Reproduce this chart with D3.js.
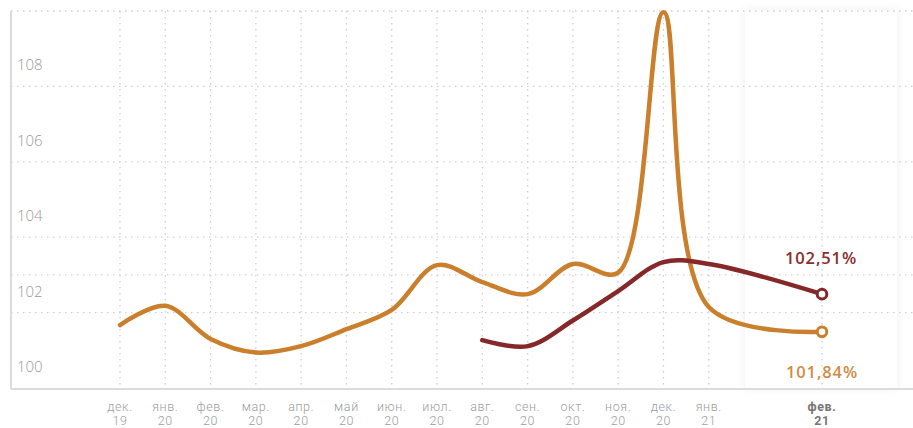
<!DOCTYPE html>
<html>
<head>
<meta charset="utf-8">
<script src="https://cdn.jsdelivr.net/npm/d3@7"></script>
<style>
  html, body { margin: 0; padding: 0; background: #fff; }
  svg { display: block; }
  text { font-family: "Open Sans", Roboto, "Noto Sans", sans-serif; }
  text.xl { font-family: Roboto, "Noto Sans", sans-serif; }
</style>
</head>
<body>
<svg id="chart" width="913" height="428"></svg>
<script>
// ---- data ----
const months = ["дек.","янв.","фев.","мар.","апр.","май","июн.","июл.","авг.","сен.","окт.","ноя.","дек.","янв.","фев."];
const years  = ["19","20","20","20","20","20","20","20","20","20","20","20","20","21","21"];
const orangeSeries = [101.67,102.18,101.30,100.94,101.11,101.56,102.07,103.26,102.81,102.49,103.29,103.06,109.97,102.15,101.49];
const redSeries    = [null,null,null,null,null,null,null,null,101.27,101.11,101.79,102.57,103.34,103.29,102.49];
const yTickLabels  = [100,102,104,106,108];
const yGridValues  = [102,103,104,106,108,110];
const endLabels    = { red: "102,51%", orange: "101,84%" };

// ---- layout ----
const W = 913, H = 428;
const svg = d3.select("#chart");
const n = months.length;
const slot = i => (i < n - 1 ? i : 15.5);      // last month is set apart
const x = d3.scaleLinear().domain([0, 15.5]).range([120, 822]);
const y = d3.scaleLinear().domain([100, 110]).range([388, 11]);

const axisLeft = 11, axisBottom = y(100), plotTop = y(110);
const ORANGE = "#c97f2c", RED = "#862729";

// shadow filter
const defs = svg.append("defs");
const f = defs.append("filter").attr("id","sh").attr("x","-30%").attr("y","-10%").attr("width","160%").attr("height","120%");
f.append("feDropShadow").attr("dx",0).attr("dy",0).attr("stdDeviation",5).attr("flood-color","#000").attr("flood-opacity",0.07);

// highlight column
const cx = x(slot(n-1));
svg.append("rect")
  .attr("x", cx - 77).attr("y", plotTop - 1)
  .attr("width", 152).attr("height", axisBottom - plotTop + 1)
  .attr("fill", "#fff").attr("filter","url(#sh)");

// horizontal grid
svg.append("g").selectAll("line").data(yGridValues).join("line")
  .attr("x1", axisLeft).attr("x2", W)
  .attr("y1", d => y(d)).attr("y2", d => y(d))
  .attr("stroke", "#cfcfcf").attr("stroke-width", 1.3)
  .attr("stroke-dasharray", "1.5 4.5");

// vertical grid
svg.append("g").selectAll("line").data(months).join("line")
  .attr("x1", (d,i) => x(slot(i))).attr("x2", (d,i) => x(slot(i)))
  .attr("y1", plotTop).attr("y2", axisBottom)
  .attr("stroke", "#cfcfcf").attr("stroke-width", 1.3)
  .attr("stroke-dasharray", "1.5 4.5");

// axes lines
svg.append("line").attr("x1", axisLeft).attr("x2", axisLeft).attr("y1", plotTop).attr("y2", axisBottom + 1)
  .attr("stroke", "#dcdcdc").attr("stroke-width", 2);
svg.append("line").attr("x1", axisLeft).attr("x2", W).attr("y1", axisBottom + 1).attr("y2", axisBottom + 1)
  .attr("stroke", "#dcdcdc").attr("stroke-width", 2);

// y tick labels
svg.append("g").selectAll("text").data(yTickLabels).join("text")
  .attr("x", 17).attr("y", d => y(d) - 16)
  .attr("fill", "#9a9a9a").attr("font-size", 15).attr("font-weight", 300)
  .text(d => d);

// x labels (two rows)
const xg = svg.append("g").attr("text-anchor", "middle");
xg.selectAll("text.m").data(months).join("text").attr("class","m xl")
  .attr("x", (d,i) => x(slot(i))).attr("y", 411)
  .attr("font-size", 12.5).attr("letter-spacing", 0.6)
  .attr("fill", (d,i) => i === n-1 ? "#777" : "#9d9d9d")
  .attr("font-weight", (d,i) => i === n-1 ? 700 : 300)
  .text(d => d);
xg.selectAll("text.yr").data(years).join("text").attr("class","yr xl")
  .attr("x", (d,i) => x(slot(i))).attr("y", 425)
  .attr("font-size", 12.5).attr("letter-spacing", 0.6)
  .attr("fill", (d,i) => i === n-1 ? "#777" : "#9d9d9d")
  .attr("font-weight", (d,i) => i === n-1 ? 700 : 300)
  .text(d => d);

// lines
const line = d3.line()
  .defined(d => d.v != null)
  .x(d => x(slot(d.i))).y(d => y(d.v))
  .curve(d3.curveCatmullRom.alpha(0.5));

const oData = orangeSeries.map((v,i) => ({v, i}));
const rData = redSeries.map((v,i) => ({v, i}));

svg.append("path").datum(oData).attr("d", line)
  .attr("fill","none").attr("stroke", ORANGE).attr("stroke-width", 4.5)
  .attr("stroke-linecap","round").attr("stroke-linejoin","round");
svg.append("path").datum(rData).attr("d", line)
  .attr("fill","none").attr("stroke", RED).attr("stroke-width", 4.5)
  .attr("stroke-linecap","round").attr("stroke-linejoin","round");

// end markers
svg.append("circle").attr("cx", cx).attr("cy", y(orangeSeries[n-1])).attr("r", 4.8)
  .attr("fill","#fff").attr("stroke", ORANGE).attr("stroke-width", 3);
svg.append("circle").attr("cx", cx).attr("cy", y(redSeries[n-1])).attr("r", 4.8)
  .attr("fill","#fff").attr("stroke", RED).attr("stroke-width", 3);

// end labels
svg.append("text").attr("x", cx - 1).attr("y", y(redSeries[n-1]) - 30)
  .attr("text-anchor","middle").attr("fill", "#8a2d2d").attr("font-size", 16.5).attr("font-weight", 600)
  .attr("letter-spacing", 0.9).text(endLabels.red);
svg.append("text").attr("x", cx).attr("y", y(orangeSeries[n-1]) + 46)
  .attr("text-anchor","middle").attr("fill", "#d18b48").attr("font-size", 16.5).attr("font-weight", 600)
  .attr("letter-spacing", 0.9).text(endLabels.orange);
</script>
</body>
</html>
